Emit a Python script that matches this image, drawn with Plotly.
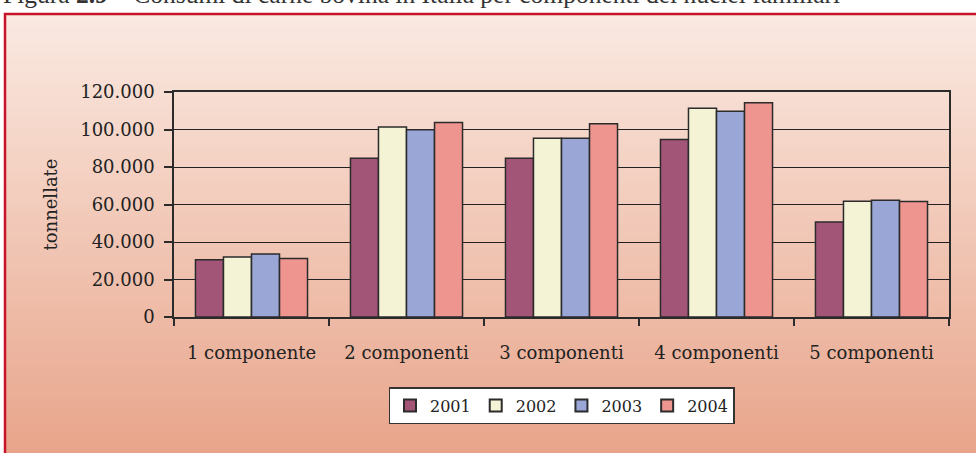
import plotly.graph_objects as go

categories = ["1 componente", "2 componenti", "3 componenti", "4 componenti", "5 componenti"]
years = ["2001", "2002", "2003", "2004"]
v2001 = [30500, 84700, 84700, 94700, 50700]
v2002 = [32000, 101300, 95400, 111300, 61800]
v2003 = [33600, 99900, 95400, 109800, 62300]
v2004 = [31200, 103800, 103100, 114300, 61600]
series = [v2001, v2002, v2003, v2004]
colors = ["#A25577", "#F4F3D5", "#9AA6D5", "#EF9590"]
y_ticks = [0, 20000, 40000, 60000, 80000, 100000, 120000]

W, H = 976, 453
L, R, T, B = 174, 27, 92, 136
PW = W - L - R
PH = H - T - B


def px_x(p):
    return (p - L) / PW


def px_y(p):
    return (H - B - p) / PH


FONT = "DejaVu Serif"
fig = go.Figure()
for name, vals, col in zip(years, series, colors):
    fig.add_trace(go.Bar(
        x=categories, y=vals, name=name,
        marker=dict(color=col, line=dict(color="#2b2b2b", width=1.5)),
    ))

# background gradient bands inside the red frame (overlapping to avoid seams)
shapes = []
top_c = (250, 234, 226)
bot_c = (232, 163, 137)
y0, y1 = 14, 460
n = 70
for i in range(n):
    a = y0 + (y1 - y0) * i / n
    b = y0 + (y1 - y0) * (i + 1) / n + 2
    t = (i + 0.5) / n
    c = tuple(round(top_c[k] + (bot_c[k] - top_c[k]) * t) for k in range(3))
    shapes.append(dict(type="rect", xref="paper", yref="paper", layer="below",
                       x0=px_x(5), x1=px_x(W + 30), y0=px_y(b), y1=px_y(a),
                       line=dict(width=0), fillcolor="rgb(%d,%d,%d)" % c))
shapes.append(dict(type="rect", xref="paper", yref="paper", layer="above",
                   x0=px_x(5), x1=px_x(W + 40), y0=px_y(H + 20), y1=px_y(14),
                   line=dict(color="#C8142A", width=2.5), fillcolor="rgba(0,0,0,0)"))

fig.update_layout(
    width=W, height=H,
    margin=dict(l=L, r=R, t=T, b=B, autoexpand=False),
    paper_bgcolor="white",
    plot_bgcolor="rgba(0,0,0,0)",
    separators=",.",
    barmode="group", bargap=0.277, bargroupgap=0,
    font=dict(family=FONT, size=18, color="#222"),
    shapes=shapes,
    showlegend=True,
    legend=dict(orientation="h", x=0.5, xanchor="center", y=px_y(387), yanchor="top",
                bgcolor="white", bordercolor="#333", borderwidth=1.5,
                font=dict(family=FONT, size=16, color="#222"),
                itemsizing="constant", tracegroupgap=0),
    annotations=[dict(
        text="Figura <b>2.9</b> – Consumi di carne bovina in Italia per componenti dei nuclei familiari",
        xref="paper", yref="paper", x=px_x(1), y=px_y(11), xanchor="left", yanchor="bottom",
        showarrow=False, font=dict(family="Liberation Serif", size=25.5, color="#333"))],
)
fig.update_xaxes(
    showline=True, linecolor="#2b2b2b", linewidth=1.5, mirror=True,
    ticks="outside", ticklen=7, tickcolor="#2b2b2b", tickwidth=1.5, tickson="boundaries",
    ticklabelstandoff=19, showgrid=False,
    tickfont=dict(family=FONT, size=18, color="#222"),
)
fig.update_yaxes(
    range=[0, 120000], tickvals=y_ticks, tickformat=",d",
    showline=True, linecolor="#2b2b2b", linewidth=1.5, mirror=True,
    ticks="outside", ticklen=8, tickcolor="#2b2b2b", tickwidth=1.5,
    showgrid=True, gridcolor="#222", gridwidth=1, zeroline=False,
    ticklabelstandoff=6,
    tickfont=dict(family=FONT, size=18, color="#222"),
    title=dict(text="tonnellate", standoff=18, font=dict(family=FONT, size=18, color="#222")),
)
fig.write_html(
    "out.html",
    config={"displayModeBar": False},
    post_script=("document.documentElement.style.overflow='hidden';"
                 "document.body.style.margin='0';document.body.style.overflow='hidden';"),
)
